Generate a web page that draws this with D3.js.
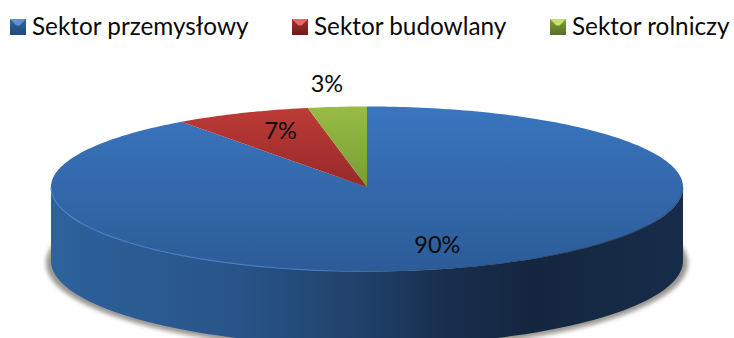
<!DOCTYPE html>
<html>
<head>
<meta charset="utf-8">
<script src="https://cdn.jsdelivr.net/npm/d3@7"></script>
<style>
  html, body { margin: 0; padding: 0; background: #fff; overflow: hidden; }
  svg { display: block; }
  text { font-family: Lato, "Open Sans", sans-serif; fill: #0a0a0a; }
</style>
</head>
<body>
<svg></svg>
<script>
// values
const categories = ["Sektor przemysłowy", "Sektor budowlany", "Sektor rolniczy"];
const shares = [90, 7, 3];
const shareLabels = ["90%", "7%", "3%"];
const topColors = [["#3a75bf", "#2c5c97"], ["#bd3b36", "#96292a"], ["#98bc44", "#799c35"]];
const swatchColors = [["#5b93d6", "#2f659f", "#1f4a7c"], ["#e46a64", "#a52f2c", "#6e1c1b"], ["#c6e06a", "#7f9f38", "#55702a"]];

const width = 734, height = 338;
// the disc is drawn in slight perspective: back half flatter than front half
const cx = 367, cy = 187, rx = 316, ryBack = 80.5, ryFront = 84.5, depth = 74;

const svg = d3.select("svg").attr("width", width).attr("height", height);
const defs = svg.append("defs");

function gradient(id, horizontal, stops) {
  const g = defs.append("linearGradient").attr("id", id)
    .attr("x1", 0).attr("y1", 0)
    .attr("x2", horizontal ? 1 : 0).attr("y2", horizontal ? 0 : 1);
  stops.forEach(s => g.append("stop").attr("offset", s[0]).attr("stop-color", s[1]).attr("stop-opacity", s[2] === undefined ? 1 : s[2]));
}

topColors.forEach((c, i) => gradient("top" + i, false, [[0, c[0]], [1, c[1]]]));
swatchColors.forEach((c, i) => gradient("sw" + i, false, [[0, c[1]], [1, c[2]]]));
gradient("wall", true, [
  [0, "#2d629c"], [0.1, "#2b5d95"], [0.3, "#285488"], [0.44, "#224671"],
  [0.52, "#1e3d63"], [0.62, "#192f4f"], [0.76, "#14263f"], [0.9, "#162a45"], [1, "#172c49"]
]);
gradient("rim", true, [[0, "#4a86cf", 0.8], [0.4, "#4a86cf", 0.7], [0.56, "#4a86cf", 0], [1, "#4a86cf", 0]]);
gradient("rimDark", true, [[0, "#14263f", 0], [0.55, "#14263f", 0], [0.9, "#14263f", 0.5], [1, "#14263f", 0.3]]);

const blur = defs.append("filter").attr("id", "blur")
  .attr("x", "-5%").attr("y", "-10%").attr("width", "110%").attr("height", "120%");
blur.append("feGaussianBlur").attr("stdDeviation", 2.2);

// soft shadow below the disc
svg.append("ellipse")
  .attr("cx", cx).attr("cy", cy + depth + 2)
  .attr("rx", rx + 5).attr("ry", ryFront + 2)
  .attr("fill", "#9a9792")
  .attr("filter", "url(#blur)");

// x/y of a point on the ellipse, angle clockwise from the top
const ex = a => cx + rx * Math.sin(a);
const ey = a => cy - (Math.cos(a) > 0 ? ryBack : ryFront) * Math.cos(a);

// front wall, only the lower half of the ellipse shows
const frontAngles = d3.range(Math.PI / 2, Math.PI * 1.5 + 0.001, Math.PI / 90);
const wall = d3.area().x(ex).y0(ey).y1(a => ey(a) + depth);
svg.append("path")
  .attr("d", wall(frontAngles))
  .attr("fill", "url(#wall)");

// top face
const pie = d3.pie().sort(null).value(d => d);
const arcs = pie(shares);
const edge = d3.line().x(ex).y(ey);
function slicePath(d) {
  const steps = Math.ceil((d.endAngle - d.startAngle) / (Math.PI / 180));
  const angles = d3.range(steps + 1).map(i => d.startAngle + (d.endAngle - d.startAngle) * i / steps);
  return `M${cx},${cy}L` + edge(angles).slice(1) + "Z";
}
svg.append("g")
  .selectAll("path")
  .data(arcs)
  .join("path")
    .attr("d", slicePath)
    .attr("fill", (d, i) => `url(#top${i})`);

// light edge on the left of the rim, dark soft edge on the right
svg.append("path")
  .attr("d", edge(frontAngles))
  .attr("fill", "none")
  .attr("stroke", "url(#rim)")
  .attr("stroke-width", 1.2);
svg.append("path")
  .attr("d", edge(frontAngles))
  .attr("fill", "none")
  .attr("stroke", "url(#rimDark)")
  .attr("stroke-width", 1.5);

// value labels
const labelRadius = d => (d.value < 5 ? 1.28 : 0.72);
const labelNudge = [[0, 1], [4, -2], [-2, 2]];
const midAngle = d => (d.startAngle + d.endAngle) / 2;
svg.append("g")
  .attr("font-size", 23.5)
  .attr("text-anchor", "middle")
  .selectAll("text")
  .data(arcs)
  .join("text")
    .attr("x", (d, i) => cx + rx * labelRadius(d) * Math.sin(midAngle(d)) + labelNudge[i][0])
    .attr("y", (d, i) => cy - (ryBack + ryFront) / 2 * labelRadius(d) * Math.cos(midAngle(d)) + labelNudge[i][1])
    .attr("dy", "0.35em")
    .text((d, i) => shareLabels[i]);

// legend
const legendX = d3.scaleOrdinal().domain(categories).range([10, 292, 550]);
const sw = 16, legendY = 19;
const legend = svg.append("g").selectAll("g")
  .data(categories)
  .join("g")
    .attr("transform", d => `translate(${legendX(d)},${legendY})`);
legend.append("rect")
  .attr("width", sw).attr("height", sw)
  .attr("fill", (d, i) => `url(#sw${i})`);
legend.append("path")
  .attr("d", `M0,0H${sw}L${sw * 0.6},${sw * 0.4}H${sw * 0.4}Z`)
  .attr("fill", (d, i) => swatchColors[i][0]);
legend.append("text")
  .attr("x", 22).attr("y", sw / 2 - 1)
  .attr("dy", "0.36em")
  .attr("font-size", 24.3)
  .text(d => d);
</script>
</body>
</html>
